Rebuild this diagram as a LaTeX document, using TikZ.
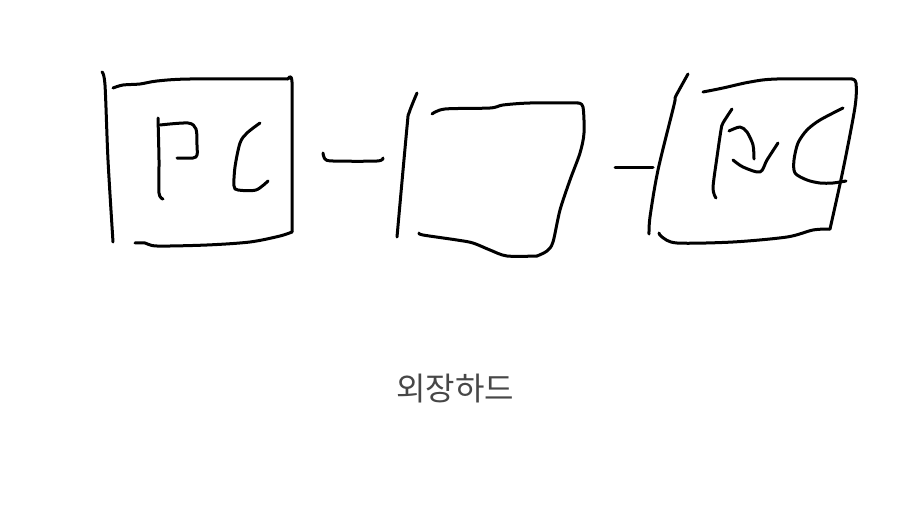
\documentclass[tikz,border=0pt]{standalone}
\usepackage{fontspec}
\newfontfamily\cjk{Noto Sans CJK KR}
\usepackage{tikz}
\usetikzlibrary{positioning}

\begin{document}
\begin{tikzpicture}[
    x=1pt, y=-1pt,
    pen/.style={draw=black, line width=3pt, line cap=round, line join=round},
    caption/.style={font=\cjk\fontsize{32}{36}\selectfont, text=black!72}
]
\useasboundingbox (0,0) rectangle (900,511);

% left box: PC
\draw[pen] plot[smooth] coordinates {(102,72) (105,85) (108,160) (113,242)};
\draw[pen] plot[smooth] coordinates {(113,88) (123,85) (140,84) (157,81) (190,79) (288,79)};
\draw[pen] plot[smooth] coordinates {(288,79) (292,82) (292,150) (292,232)};
\draw[pen] plot[smooth] coordinates {(292,232) (280,236) (250,242) (207,245) (157,246) (145,243) (135,243)};
\draw[pen] plot[smooth] coordinates {(158,118) (159,160) (159,193) (163,199)};
\draw[pen] plot[smooth] coordinates {(160,125) (188,123) (196,129) (197,145) (197,155) (193,158) (177,158)};
\draw[pen] plot[smooth] coordinates {(260,123) (247,133) (240,143) (235,167) (234,186) (238,190) (256,190) (268,181)};

% dash
\draw[pen] plot[smooth] coordinates {(323,153) (325,159) (333,161) (377,161) (383,158)};

% middle box
\draw[pen] plot[smooth] coordinates {(417,93) (409,113) (407,127) (397,237)};
\draw[pen] plot[smooth] coordinates {(432,114) (445,109) (490,108) (503,105) (530,103) (578,103)};
\draw[pen] plot[smooth] coordinates {(578,103) (583,107) (584,133) (580,153) (570,180) (560,210) (553,242) (547,251) (537,256)};
\draw[pen] plot[smooth] coordinates {(537,256) (507,256) (490,250) (473,243) (457,240) (423,235) (419,233)};

% dash
\draw[pen] (615,167) -- (653,167);

% right box: PC
\draw[pen] plot[smooth] coordinates {(688,74) (678,92) (675,98) (674,105) (658,170) (650,217) (649,234)};
\draw[pen] plot[smooth] coordinates {(703,92) (723,88) (750,82) (777,79) (852,79)};
\draw[pen] plot[smooth] coordinates {(852,79) (856,83) (855,107) (843,170) (830,229)};
\draw[pen] plot[smooth] coordinates {(830,229) (813,230) (787,237) (733,242) (677,243) (662,237) (659,233)};
\draw[pen] plot[smooth] coordinates {(732,109) (723,123) (721,130) (717,157) (713,188) (716,198)};
\draw[pen] plot[smooth] coordinates {(729,131) (740,127) (747,132) (753,145) (754,159)};
\draw[pen] plot[smooth] coordinates {(733,160) (743,167) (760,172) (767,160) (778,143)};
\draw[pen] plot[smooth] coordinates {(843,108) (820,120) (807,130) (798,143) (794,160) (795,173) (807,180) (820,183) (833,183) (846,181)};

\node[caption] (drive) at (455,389) {외장하드};

\end{tikzpicture}
\end{document}
